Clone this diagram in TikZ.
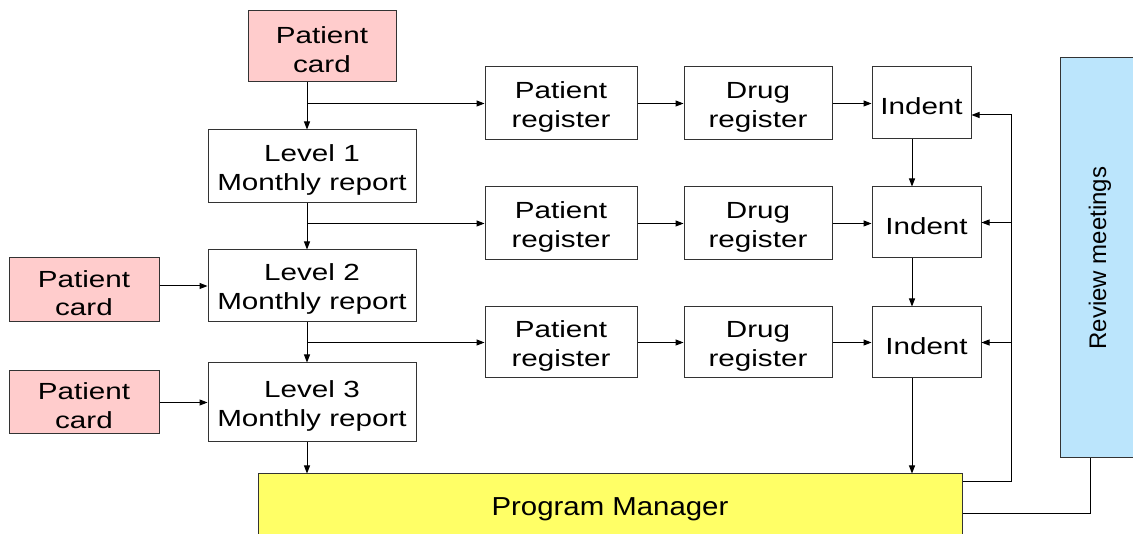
\documentclass[tikz,border=0pt]{standalone}
\usepackage{fontspec}
\setmainfont{Liberation Sans}[FakeStretch=1.27]
\newfontfamily\pmfont{Liberation Sans}[FakeStretch=1.13]
\newfontfamily\rvfont{Liberation Sans}
\usetikzlibrary{arrows.meta}
\definecolor{cardpink}{HTML}{FFCCCC}
\definecolor{pmyellow}{HTML}{FFFF66}
\definecolor{rvblue}{HTML}{BBE5FC}
\definecolor{edgegray}{HTML}{333333}
\newcommand\tstrut{\rule{0pt}{17.5pt}}
\begin{document}
\begin{tikzpicture}[x=0.75pt,y=-0.75pt,
  box/.style={draw=edgegray, line width=0.75pt, align=center, inner sep=0pt,
    font=\fontsize{17.5}{21.5}\selectfont},
  sz/.style 2 args={minimum width=#1*0.75pt, minimum height=#2*0.75pt},
  card/.style={box, fill=cardpink},
  arr/.style={-{Triangle[length=6pt,width=4.5pt]}, line width=0.75pt},
  ln/.style={line width=0.75pt}]
\useasboundingbox (0,0) rectangle (1133,534);
\clip (0,0) rectangle (1133,534);
% left column
\node[card, sz={148}{71}] (c0) at (322,46.5) {\tstrut Patient\\card};
\node[box, sz={208}{73}] (l1) at (312,166.5) {\tstrut Level 1\\Monthly report};
\node[box, sz={208}{72}] (l2) at (312,286) {\tstrut Level 2\\Monthly report};
\node[box, sz={208}{79}] (l3) at (312,402.5) {\tstrut Level 3\\Monthly report};
\node[card, sz={150}{64}] (c2) at (84,290) {\tstrut Patient\\card};
\node[card, sz={150}{63}] (c3) at (84,402.5) {\tstrut Patient\\card};
% registers
\node[box, sz={152}{73}] (p1) at (561,103.5) {\tstrut Patient\\register};
\node[box, sz={152}{73}] (p2) at (561,223.5) {\tstrut Patient\\register};
\node[box, sz={152}{71}] (p3) at (561,342.5) {\tstrut Patient\\register};
\node[box, sz={148}{73}] (d1) at (758,103.5) {\tstrut Drug\\register};
\node[box, sz={148}{73}] (d2) at (758,223.5) {\tstrut Drug\\register};
\node[box, sz={148}{71}] (d3) at (758,342.5) {\tstrut Drug\\register};
% indents
\node[box, sz={99}{72}] (i1) at (921.5,103) {\tstrut Indent};
\node[box, sz={109}{71}] (i2) at (926.5,222.5) {\tstrut Indent};
\node[box, sz={109}{71}] (i3) at (926.5,342.5) {\tstrut Indent};
% program manager and review
\node[box, fill=pmyellow, sz={704}{66}, font=\pmfont\fontsize{19.5}{23}\selectfont] (pm) at (610,507) {\tstrut Program Manager};
\node[box, fill=rvblue, sz={80}{400}, font=\rvfont\fontsize{18}{21}\selectfont] (rv) at (1100,258) {\rotatebox{90}{Review meetings}};
% helper coordinates
\coordinate (colL) at (307,0);
\coordinate (colI) at (912,0);
\coordinate (fbtop) at (1011,115);
\coordinate (fbbot) at (1011,482);
\coordinate (rvb) at (1090,514);
% left column arrows
\draw[arr] (c0.south -| colL) -- (l1.north -| colL);
\draw[arr] (colL |- p1.west) -- (p1.west);
\draw[arr] (l1.south -| colL) -- (l2.north -| colL);
\draw[arr] (colL |- p2.west) -- (p2.west);
\draw[arr] (l2.south -| colL) -- (l3.north -| colL);
\draw[arr] (colL |- p3.west) -- (p3.west);
\draw[arr] (l3.south -| colL) -- (pm.north -| colL);
\draw[arr] (c2.east |- l2.west) -- (l2.west);
\draw[arr] (c3.east |- l3.west) -- (l3.west);
% rows
\draw[arr] (p1.east) -- (d1.west);
\draw[arr] (p2.east) -- (d2.west);
\draw[arr] (p3.east) -- (d3.west);
\draw[arr] (d1.east) -- (i1.west |- d1.east);
\draw[arr] (d2.east) -- (i2.west |- d2.east);
\draw[arr] (d3.east) -- (i3.west |- d3.east);
% indent chain
\draw[arr] (i1.south -| colI) -- (i2.north -| colI);
\draw[arr] (i2.south -| colI) -- (i3.north -| colI);
\draw[arr] (i3.south -| colI) -- (pm.north -| colI);
% feedback
\draw[arr] (fbbot -| pm.east) -- (fbbot) -- (fbtop) -- (fbtop -| i1.east);
\draw[arr] (fbtop |- i2.east) -- (i2.east);
\draw[arr] (fbtop |- i3.east) -- (i3.east);
% review link
\draw[ln] (rv.south -| rvb) -- (rvb) -- (rvb -| pm.east);
\end{tikzpicture}
\end{document}
